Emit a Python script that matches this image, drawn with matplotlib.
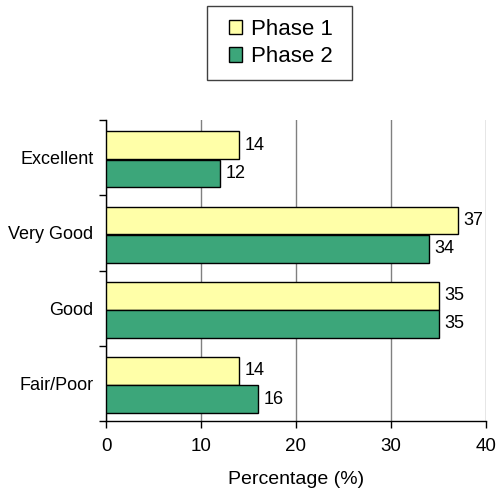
import numpy as np
import matplotlib.pyplot as plt
from matplotlib.patches import Patch, Rectangle

plt.rcParams['font.family'] = ['Liberation Sans', 'DejaVu Sans']

# Data
categories = ['Excellent', 'Very Good', 'Good', 'Fair/Poor']
phase1 = [14, 37, 35, 14]
phase2 = [12, 34, 35, 16]
xticks = [0, 10, 20, 30, 40]

yellow = '#FFFFA8'
green = '#3CA67A'

W, H = 496, 504
fig = plt.figure(figsize=(W / 100, H / 100), dpi=100)
ax = fig.add_axes([106 / W, 1 - 421 / H, 380 / W, 301 / H])

y = np.arange(len(categories))
h = 0.37
b1 = ax.barh(y - 0.165, phase1, height=h, color=yellow, edgecolor='black', linewidth=1, zorder=3)
b2 = ax.barh(y + 0.21, phase2, height=h, color=green, edgecolor='black', linewidth=1, zorder=3)

# value labels at the bar ends
for bars, vals in ((b1, phase1), (b2, phase2)):
    for bar, v in zip(bars, vals):
        ax.annotate(str(v), (v, bar.get_y() + bar.get_height() / 2),
                    xytext=(4, 0), textcoords='offset points',
                    va='center', ha='left', fontsize=13)

ax.set_xlim(0, 40)
ax.set_ylim(3.5, -0.5)
ax.set_xticks(xticks)
ax.tick_params(axis='x', direction='out', length=5, width=1, labelsize=13.5, pad=7)

ax.set_yticks(y)
ax.set_yticklabels(categories, fontsize=13)
ax.set_yticks(np.arange(-0.5, 4, 1), minor=True)
ax.tick_params(axis='y', which='major', length=0, pad=9)
ax.tick_params(axis='y', which='minor', direction='out', length=5, width=1)

ax.xaxis.grid(True, color='#808080', linewidth=1, zorder=0)
ax.set_axisbelow(True)
for s in ('top', 'right'):
    ax.spines[s].set_visible(False)
for s in ('left', 'bottom'):
    ax.spines[s].set_linewidth(1)

ax.set_xlabel('Percentage (%)', fontsize=14, labelpad=12)

# legend: frameless legend inside a drawn box
handles = [Patch(facecolor=yellow, edgecolor='black', label='Phase 1'),
           Patch(facecolor=green, edgecolor='black', label='Phase 2')]
fig.legend(handles=handles, loc='center', bbox_to_anchor=(281 / W, 1 - 43 / H),
           prop={'size': 16}, frameon=False,
           handlelength=0.6, handleheight=0.6, handletextpad=0.4,
           borderpad=0, labelspacing=0.3, borderaxespad=0)
fig.patches.append(Rectangle((207 / W, 1 - 80 / H), 145 / W, 74 / H, transform=fig.transFigure,
                             fill=False, edgecolor='#404040', linewidth=1))

fig.savefig('out.png', dpi=100)
